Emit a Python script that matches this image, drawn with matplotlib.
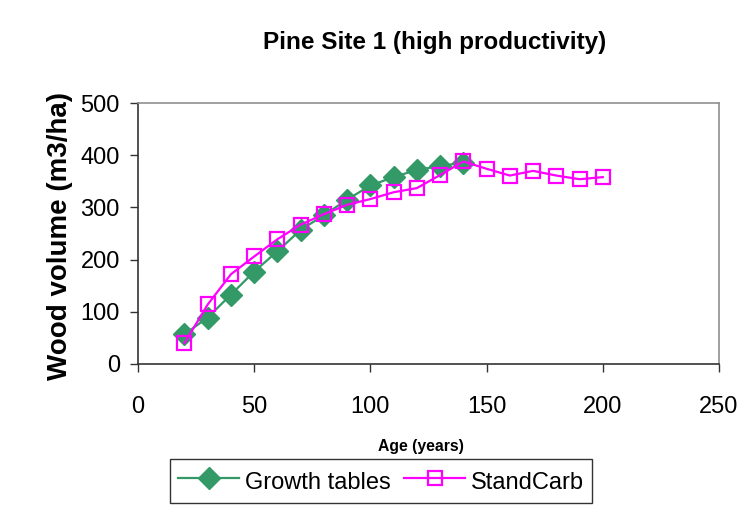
import matplotlib
matplotlib.use("Agg")
import matplotlib.pyplot as plt

ages_growth = [20, 30, 40, 50, 60, 70, 80, 90, 100, 110, 120, 130, 140]
growth_tables = [57, 89, 133, 177, 216, 257, 285, 315, 342, 358, 372, 379, 386]

ages_standcarb = [20, 30, 40, 50, 60, 70, 80, 90, 100, 110, 120, 130, 140,
                  150, 160, 170, 180, 190, 200]
standcarb = [40, 114, 172, 206, 239, 267, 287, 305, 316, 329, 337, 362, 388,
             374, 361, 370, 361, 354, 358]

xticks = [0, 50, 100, 150, 200, 250]
yticks = [0, 100, 200, 300, 400, 500]

plt.rcParams['font.family'] = ['Liberation Sans', 'DejaVu Sans']

fig = plt.figure(figsize=(7.39, 5.12), dpi=100)
ax = fig.add_axes([138/739, 1-364/512, (719-138)/739, (364-103)/512])

green = '#339966'
magenta = '#FF00FF'
ax.plot(ages_growth, growth_tables, color=green, lw=1.6, marker='D', ms=11,
        mfc=green, mec=green, label='Growth tables', zorder=3)
ax.plot(ages_standcarb, standcarb, color=magenta, lw=1.6, marker='s', ms=10,
        mfc='none', mec=magenta, mew=1.6, label='StandCarb', zorder=4)

ax.set_xlim(0, 250)
ax.set_ylim(0, 500)
ax.set_xticks(xticks)
ax.set_yticks(yticks)
ax.tick_params(axis='both', direction='out', length=6, width=1, labelsize=17, color='#333333')
ax.tick_params(axis='x', pad=17)
ax.tick_params(axis='y', pad=7)

for s in ['top', 'right']:
    ax.spines[s].set_color('#909090')
    ax.spines[s].set_linewidth(1.2)
for s in ['left', 'bottom']:
    ax.spines[s].set_color('#333333')
    ax.spines[s].set_linewidth(1.2)

ax.set_ylabel('Wood volume (m3/ha)', fontsize=20, fontweight='bold')
ax.yaxis.set_label_coords((73 - 138) / 581, 0.49)
fig.text(421/739, 1-447/512, 'Age (years)', fontsize=11.3, fontweight='bold',
         ha='center', va='center')
fig.text(435/739, 1-42/512, 'Pine Site 1 (high productivity)', fontsize=17.5,
         fontweight='bold', ha='center', va='center')

leg = fig.legend(loc='center', bbox_to_anchor=(381/739, 1-481/512), ncol=2,
                 fontsize=17, frameon=True, fancybox=False, edgecolor='black',
                 handlelength=2.6, columnspacing=0.55, handletextpad=0.25,
                 handleheight=1.45, borderpad=0.35)
leg.get_frame().set_linewidth(1.0)

fig.savefig('out.png', dpi=100)
